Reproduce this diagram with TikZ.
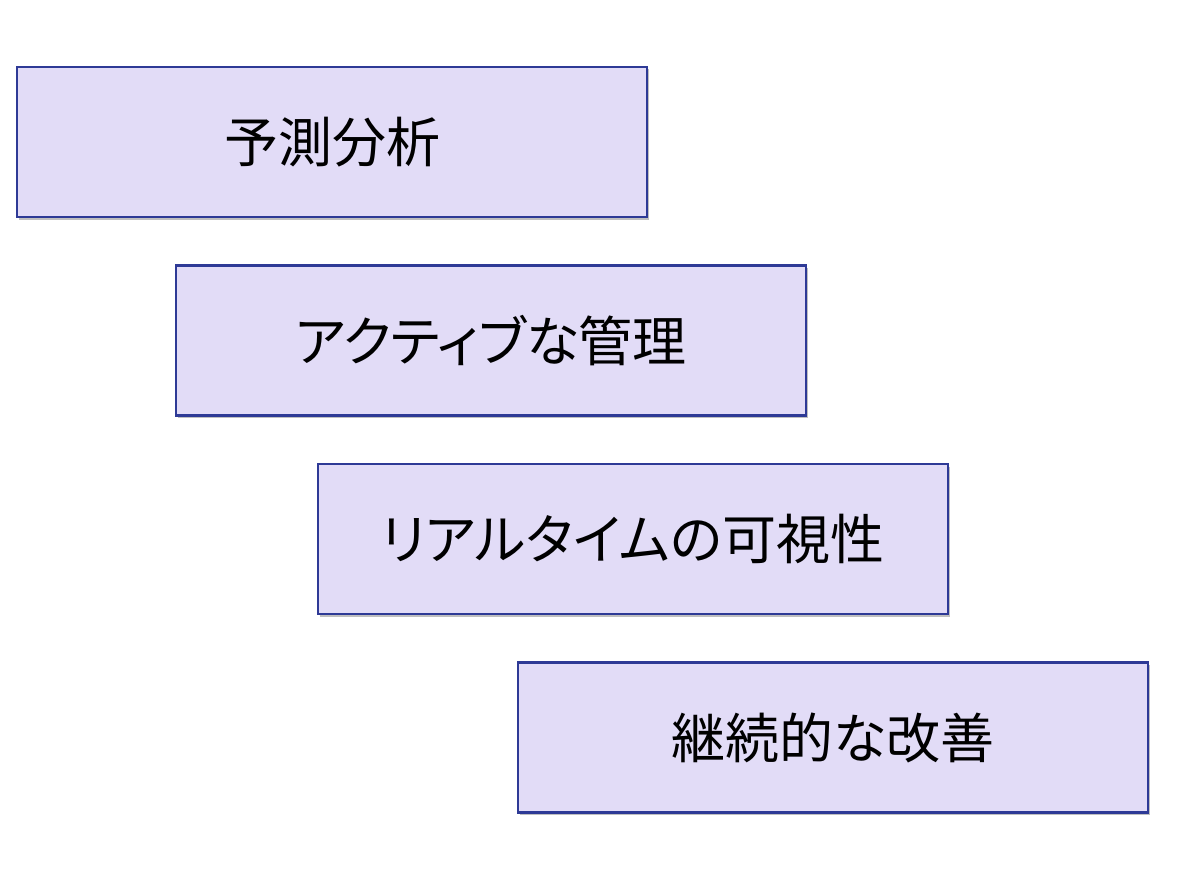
\documentclass[tikz,border=0pt]{standalone}
\usepackage{fontspec}
\newfontfamily\cjk[RawFeature=+palt]{Noto Sans CJK JP}
\usetikzlibrary{shadows}

\definecolor{boxfill}{HTML}{E2DCF7}
\definecolor{boxline}{HTML}{2E3A96}

\tikzset{
	stagebox/.style={draw=boxline, line width=2.2pt, fill=boxfill,
		minimum width=630pt, minimum height=150pt, inner sep=0pt,
		font=\cjk\fontsize{54}{60}\selectfont,
		drop shadow={shadow xshift=2pt, shadow yshift=-2.5pt, fill=black, opacity=0.25}}
}

\begin{document}
\begin{tikzpicture}[x=1pt, y=-1pt]
		% Canvas
		\fill[white] (0,0) rectangle (1193,896);
		\useasboundingbox (0,0) rectangle (1193,896);

		% Stairs of stages, top left to bottom right
		\node[stagebox] (predict) at (332,142)   {予測分析};
		\node[stagebox] (active)  at (491,340.5) {アクティブな管理};
		\node[stagebox] (realtime) at (633,539)  {リアルタイムの可視性};
		\node[stagebox] (improve) at (833,737.5) {継続的な改善};
	\end{tikzpicture}
\end{document}
